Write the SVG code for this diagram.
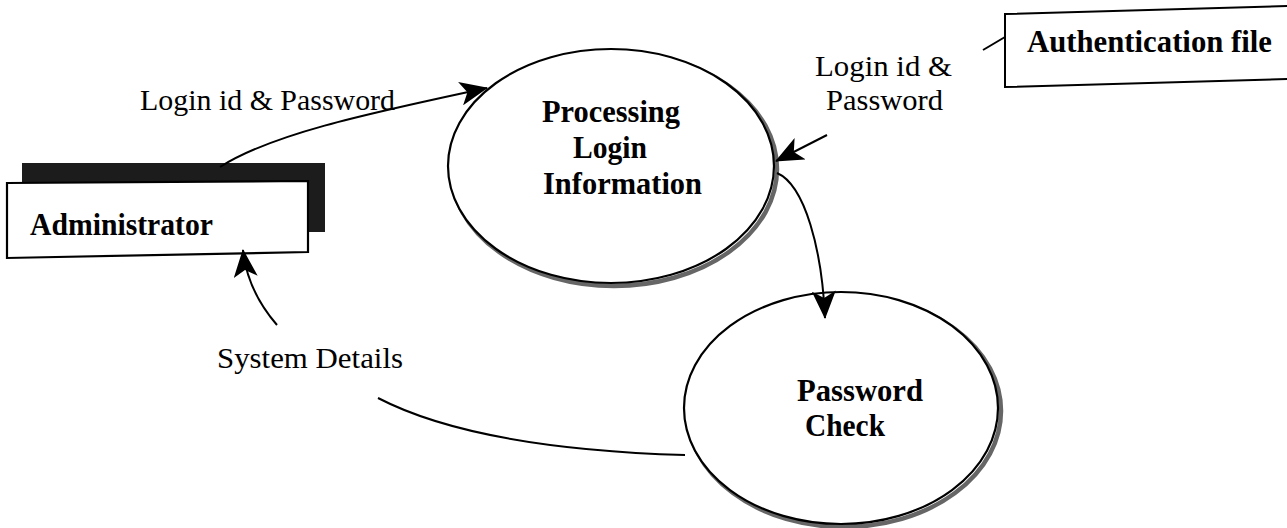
<svg xmlns="http://www.w3.org/2000/svg" width="1287" height="528" viewBox="0 0 1287 528">
  <style>
    .lbl { font-family: "Liberation Serif", "Times New Roman", serif; font-size: 30px; fill: #000; }
    .bold { font-family: "Liberation Serif", "Times New Roman", serif; font-size: 32px; font-weight: bold; fill: #000; }
    .edge { fill: none; stroke: #000; stroke-width: 2; }
    .outline { fill: #fff; stroke: #000; stroke-width: 2.2; }
    .shadow { fill: none; stroke: #666; stroke-width: 4.5; }
  </style>
  <defs>
    <marker id="arr" viewBox="0 0 28 24" refX="27" refY="12" markerWidth="28" markerHeight="24" markerUnits="userSpaceOnUse" orient="auto">
      <path d="M0,0 L28,12 L0,24 L7,12 Z" fill="#000"/>
    </marker>
  </defs>
  <rect x="0" y="0" width="1287" height="528" fill="#fff"/>

  <g id="administrator">
    <rect x="22" y="163" width="303" height="69" fill="#1c1c1c"/>
    <polygon points="7,183 308,181 308,252 7,258" class="outline"/>
    <text x="30" y="235" class="bold" textLength="183" lengthAdjust="spacingAndGlyphs">Administrator</text>
  </g>

  <g id="processing-login">
    <ellipse cx="614" cy="169" rx="163" ry="117" class="shadow"/>
    <ellipse cx="611" cy="166" rx="163" ry="117" class="outline"/>
    <text x="542" y="122" class="bold" textLength="138" lengthAdjust="spacingAndGlyphs">Processing</text>
    <text x="573" y="158" class="bold" textLength="74" lengthAdjust="spacingAndGlyphs">Login</text>
    <text x="543" y="194" class="bold" textLength="159" lengthAdjust="spacingAndGlyphs">Information</text>
  </g>

  <g id="password-check">
    <ellipse cx="844" cy="411" rx="157" ry="116" class="shadow"/>
    <ellipse cx="841" cy="408" rx="157" ry="116" class="outline"/>
    <text x="797" y="401" class="bold" textLength="126" lengthAdjust="spacingAndGlyphs">Password</text>
    <text x="805" y="436" class="bold" textLength="80" lengthAdjust="spacingAndGlyphs">Check</text>
  </g>

  <g id="authentication-file">
    <polyline points="1287,6 1005,14 1005,87 1287,79" class="edge" stroke-width="2.2"/>
    <text x="1027" y="52" class="bold" textLength="245" lengthAdjust="spacingAndGlyphs">Authentication file</text>
  </g>

  <g id="connectors">
    <path d="M220,167 C270,135 360,115 487,88" class="edge" marker-end="url(#arr)"/>
    <path d="M983,50 L1005,37" class="edge"/>
    <path d="M827,135 L776,161" class="edge" marker-end="url(#arr)"/>
    <path d="M777,173 C805,185 822,250 825,318" class="edge" marker-end="url(#arr)"/>
    <path d="M685,455 C520,450 430,425 378,398" class="edge"/>
    <path d="M277,325 Q247,290 243,250" class="edge" marker-end="url(#arr)"/>
  </g>

  <g id="labels">
    <text x="140" y="110" class="lbl" textLength="255" lengthAdjust="spacingAndGlyphs">Login id &amp; Password</text>
    <text x="815" y="76" class="lbl" textLength="137" lengthAdjust="spacingAndGlyphs">Login id &amp;</text>
    <text x="826" y="110" class="lbl" textLength="117" lengthAdjust="spacingAndGlyphs">Password</text>
    <text x="217" y="368" class="lbl" textLength="186" lengthAdjust="spacingAndGlyphs">System Details</text>
  </g>
</svg>
